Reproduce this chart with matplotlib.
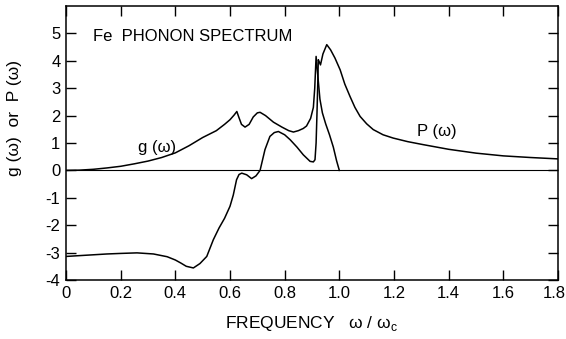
import numpy as np
import matplotlib
matplotlib.use('Agg')
import matplotlib.pyplot as plt
from matplotlib.transforms import ScaledTranslation

# g(omega): phonon density of states
w_g = [0.0, 0.05, 0.1, 0.15, 0.2, 0.25, 0.3, 0.35, 0.4, 0.45, 0.5, 0.55, 0.58,
       0.6, 0.615, 0.625, 0.632, 0.642, 0.655, 0.67, 0.685, 0.7, 0.71, 0.73,
       0.759, 0.79, 0.815, 0.832, 0.85, 0.868, 0.88, 0.895, 0.905, 0.91,
       0.915, 0.92, 0.929, 0.938, 0.95, 0.964, 0.978, 0.99, 1.0]
g = [0.0, 0.01, 0.04, 0.09, 0.15, 0.24, 0.34, 0.47, 0.64, 0.9, 1.2, 1.45, 1.68,
     1.85, 2.02, 2.15, 1.95, 1.68, 1.58, 1.68, 1.95, 2.1, 2.12, 2.0,
     1.76, 1.58, 1.45, 1.4, 1.45, 1.53, 1.62, 1.9, 2.3, 3.0,
     4.16, 3.6, 2.6, 2.1, 1.7, 1.3, 0.85, 0.35, 0.0]

# P(omega)
w_p = [0.0, 0.05, 0.1, 0.15, 0.2, 0.26, 0.32, 0.37, 0.4, 0.42, 0.44, 0.466,
       0.49, 0.515, 0.539, 0.56, 0.58, 0.6, 0.612, 0.624, 0.633, 0.643, 0.661,
       0.679, 0.695, 0.71, 0.728, 0.746, 0.762, 0.777, 0.8, 0.82, 0.845,
       0.868, 0.893, 0.905, 0.911, 0.915, 0.918, 0.921, 0.923, 0.927, 0.931,
       0.94, 0.954, 0.968, 0.984, 1.003, 1.02, 1.039, 1.057, 1.076, 1.1,
       1.124, 1.16, 1.197, 1.25, 1.307, 1.4, 1.5, 1.6, 1.7, 1.8]
P = [-3.14, -3.11, -3.08, -3.05, -3.03, -3.01, -3.05, -3.15, -3.27, -3.38,
     -3.5, -3.56, -3.4, -3.14, -2.53, -2.1, -1.75, -1.31, -0.9, -0.34, -0.15,
     -0.1, -0.16, -0.3, -0.2, 0.0, 0.76, 1.24, 1.38, 1.42, 1.3, 1.12, 0.85,
     0.57, 0.33, 0.31, 0.39, 1.0, 2.0, 3.13, 4.04, 3.95, 3.85,
     4.25, 4.59, 4.4, 4.1, 3.67, 3.15, 2.7, 2.3, 1.97, 1.7,
     1.49, 1.3, 1.18, 1.05, 0.94, 0.77, 0.63, 0.53, 0.47, 0.42]

xticks = [0, 0.2, 0.4, 0.6, 0.8, 1.0, 1.2, 1.4, 1.6, 1.8]
xticklabels = ['0', '0.2', '0.4', '0.6', '0.8', '1.0', '1.2', '1.4', '1.6', '1.8']
yticks = [-4, -3, -2, -1, 0, 1, 2, 3, 4, 5]

plt.rcParams['font.family'] = ['Liberation Sans', 'DejaVu Sans']
plt.rcParams['mathtext.fontset'] = 'custom'
plt.rcParams['mathtext.rm'] = 'Liberation Sans'

fig = plt.figure(figsize=(5.66, 3.39), dpi=100)
ax = fig.add_axes([66/566, 1 - 280/339, (558 - 66)/566, (280 - 6)/339])

ax.axhline(0, color='k', lw=0.8)
ax.plot(w_g, g, color='k', lw=1.1)
ax.plot(w_p, P, color='k', lw=1.1)

ax.set_xlim(0, 1.8)
ax.set_ylim(-4, 6)
ax.set_xticks(xticks)
ax.set_xticklabels(xticklabels)
ax.set_yticks(yticks)
ax.set_yticklabels([str(v) for v in yticks])
ax.tick_params(direction='in', length=7, width=1, labelsize=12,
               top=True, right=True, pad=4)
for s in ax.spines.values():
    s.set_linewidth(1.1)

# keep the last x label inside the canvas
last = ax.get_xticklabels()[-1]
last.set_transform(last.get_transform() + ScaledTranslation(-4/100, 0, fig.dpi_scale_trans))

ax.text(0.1, 4.89, 'Fe  PHONON SPECTRUM', fontsize=12, va='center', ha='left')
ax.text(0.263, 0.83, 'g (ω)', fontsize=12, va='center', ha='left')
ax.text(1.285, 1.42, 'P (ω)', fontsize=12, va='center', ha='left')

ax.set_xlabel(r'FREQUENCY   ω / ω$_\mathrm{c}$', fontsize=12.5, labelpad=10)
fig.text(15/566, 1 - 118/339, 'g (ω)  or  P (ω)', fontsize=12.5,
         rotation=90, ha='center', va='center')

fig.savefig('out.png', dpi=100)
